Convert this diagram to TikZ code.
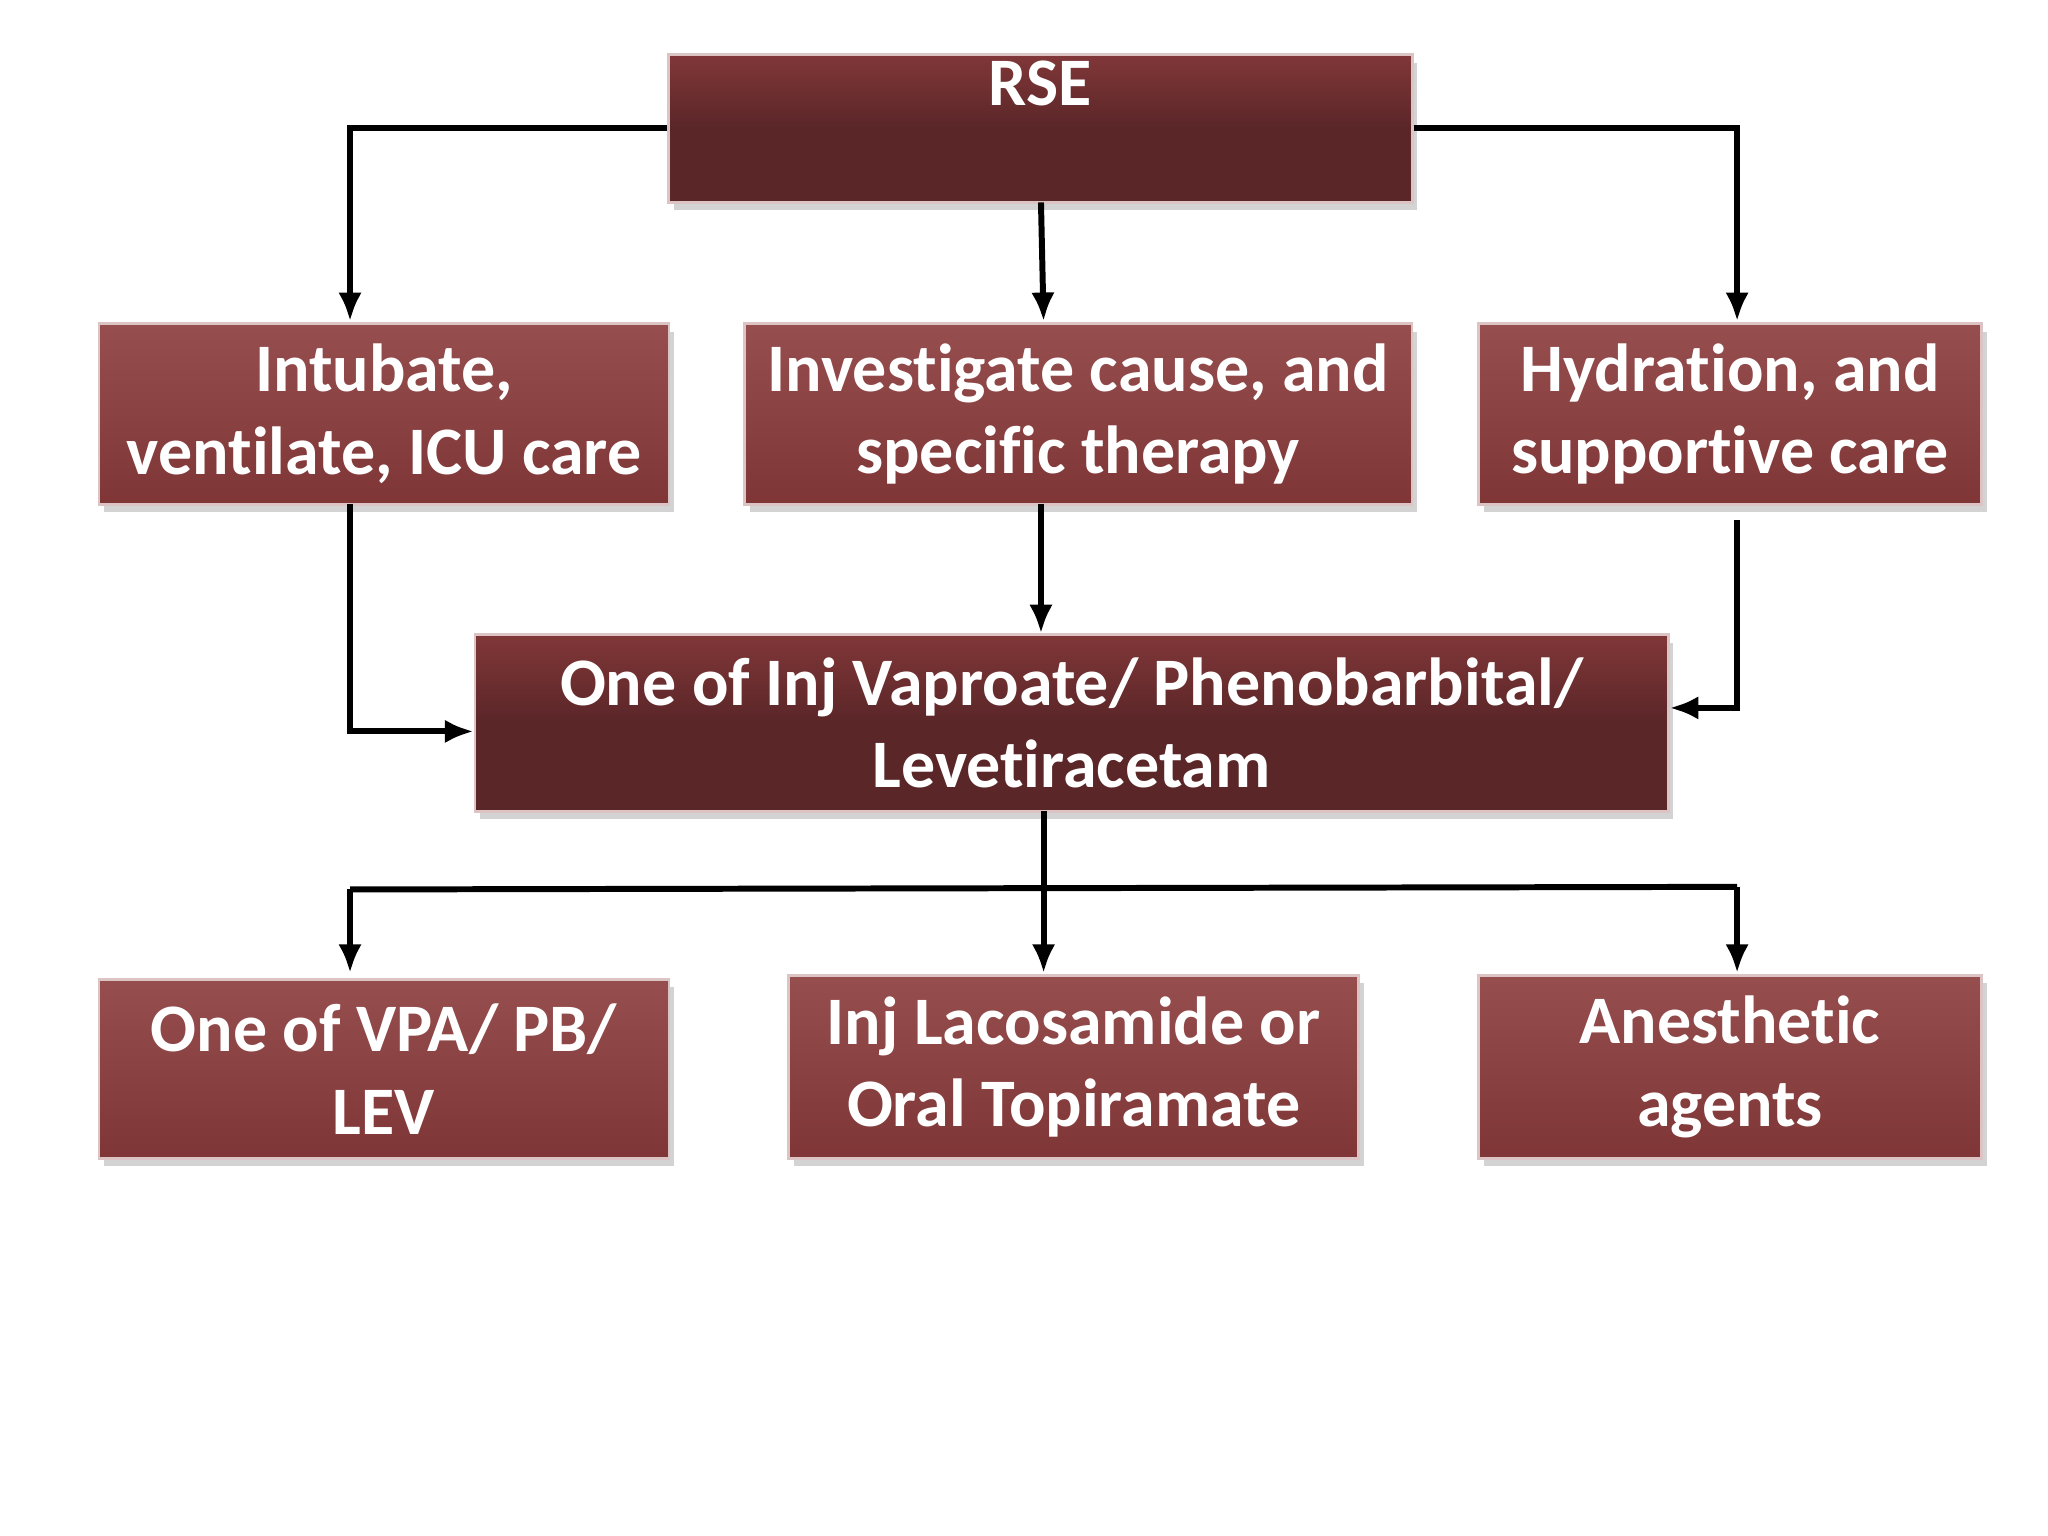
\documentclass[tikz,border=0pt]{standalone}
\usepackage{fontspec}
\setmainfont[Ligatures={NoCommon}]{Carlito}
\usetikzlibrary{arrows.meta,shadows}
\definecolor{darkbox}{HTML}{5A2628}
\definecolor{redbox}{HTML}{8A3A3B}
\tikzset{
  bx/.style={draw=white!70!redbox,line width=0.6pt,inner sep=0pt,text=white,align=center,
    font=\fontsize{14.8}{18}\selectfont\bfseries,drop shadow={opacity=0.35,shadow xshift=0.4mm,shadow yshift=-0.6mm}},
  dk/.style={bx,top color=darkbox!85!red!90!white,bottom color=darkbox,middle color=darkbox},
  rd/.style={bx,top color=redbox!90!white,bottom color=redbox!92!black},
  ar/.style={-{Latex[length=2.2mm,width=1.8mm]},line width=1.3pt},
  ln/.style={line width=1.3pt}
}
\begin{document}
\begin{tikzpicture}[x=0.01cm,y=-0.01cm]
\useasboundingbox (0,0) rectangle (1568,1176);
\node[dk,minimum width=5.69cm,minimum height=1.13cm] (rse) at (796.5,98.5) {RSE\\[-0.5ex]\strut};
\node[rd,minimum width=4.36cm,minimum height=1.38cm] (int) at (294,317) {Intubate,\\ventilate, ICU care};
\node[rd,minimum width=5.11cm,minimum height=1.38cm] (inv) at (825.5,317) {Investigate cause, and\\specific therapy};
\node[rd,minimum width=3.85cm,minimum height=1.38cm] (hyd) at (1324.5,317) {Hydration, and\\supportive care};
\node[dk,minimum width=9.13cm,minimum height=1.35cm] (mid) at (820.5,553.5) {One of Inj Vaproate/ Phenobarbital/\\Levetiracetam};
\node[rd,minimum width=4.36cm,minimum height=1.37cm] (vpa) at (294,818.5) {One of VPA/ PB/\\LEV};
\node[rd,minimum width=4.36cm,minimum height=1.40cm] (lac) at (822,817) {Inj Lacosamide or\\Oral Topiramate};
\node[rd,minimum width=3.85cm,minimum height=1.40cm] (ane) at (1324.5,817) {Anesthetic\\agents};
\coordinate (a1) at (268,98); \coordinate (a2) at (1330,98);
\draw[ar] (rse.west |- a1) -- (a1) -- (268,246);
\draw[ar] (rse.east |- a2) -- (a2) -- (1330,246);
\draw[ar] (797,155) -- (799,246);
\draw[ar] (268,386) -- (268,560) -- (mid.west |- 0,560);
\draw[ar] (797,386) -- (797,485);
\draw[ar] (1330,398) -- (1330,542) -- (mid.east |- 0,542);
\draw[ar] (799,621) -- (799,745);
\draw[ln] (268,681) -- (1330,679);
\draw[ar] (268,681) -- (268,745);
\draw[ar] (1330,679) -- (1330,745);
\end{tikzpicture}
\end{document}
